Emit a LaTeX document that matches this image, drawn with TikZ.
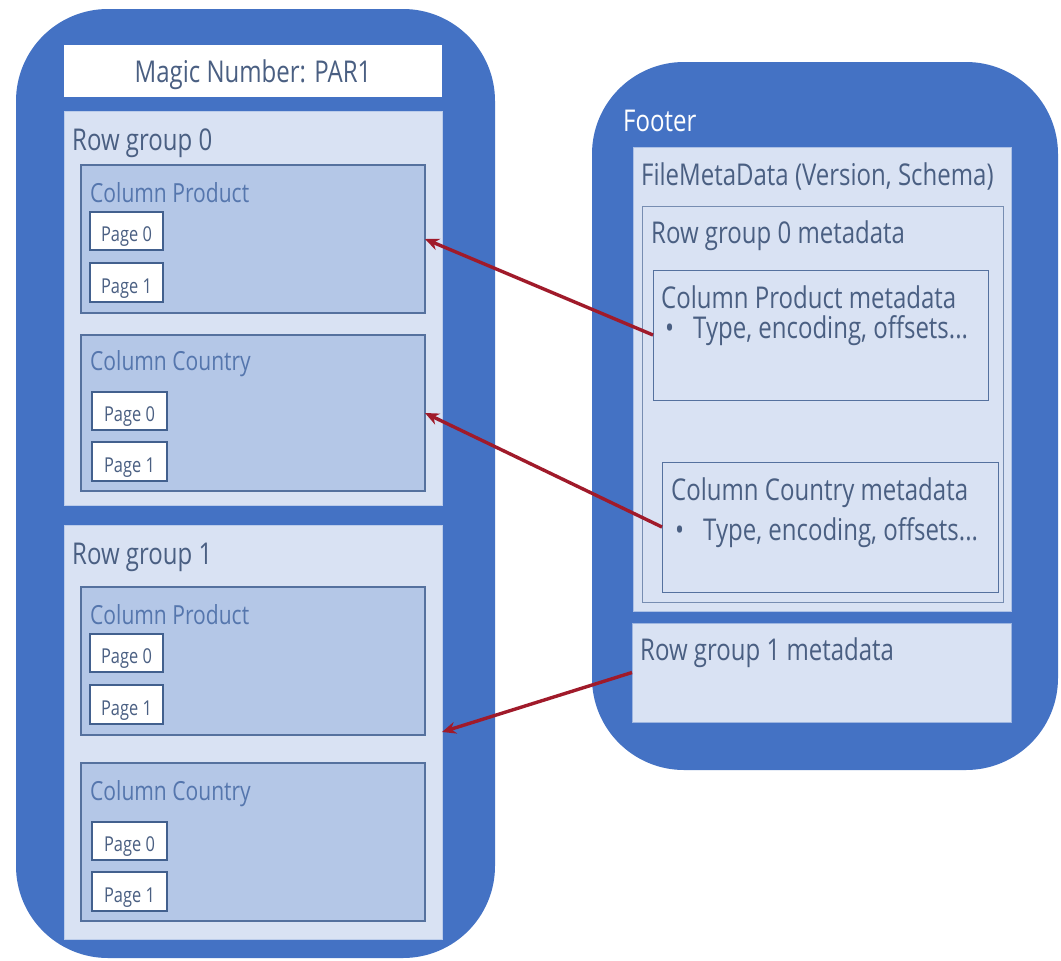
\documentclass[tikz,border=0pt]{standalone}
\usepackage{fontspec}
\setmainfont{Open Sans}[FakeStretch=0.8]
\usetikzlibrary{arrows.meta}

\definecolor{frame}{HTML}{4472C4}
\definecolor{pale}{HTML}{D9E2F3}
\definecolor{colfill}{HTML}{B4C7E7}
\definecolor{edge}{HTML}{55719E}
\definecolor{pagedge}{HTML}{42608E}
\definecolor{ink}{HTML}{4A5F82}
\definecolor{colink}{HTML}{5576AD}
\definecolor{arrowred}{HTML}{A01A2A}

\begin{document}
\begin{tikzpicture}[x=1pt,y=-1pt,
  box/.style={rectangle, inner sep=0pt, outer sep=0pt, anchor=north west},
  container/.style={box, fill=frame, draw=none, rounded corners=92pt},
  group/.style={box, fill=pale, draw=pale!80!frame, line width=0.8pt},
  column/.style={box, fill=colfill, draw=edge, line width=1.2pt},
  pagebox/.style={box, fill=white, draw=pagedge, line width=1.3pt,
    text height=21pt, text depth=0pt, text=ink,
    font=\fontsize{20.5}{23}\selectfont},
  metabox/.style={box, fill=pale, draw=edge, line width=1pt},
  title/.style={inner sep=0pt, anchor=base west, text=ink,
    font=\fontsize{30}{34}\selectfont},
  coltitle/.style={title, text=colink, font=\fontsize{26.3}{30}\selectfont},
  link/.style={-{Stealth[length=14pt,width=12pt]}, draw=arrowred, line width=3.4pt}
]
\useasboundingbox (0,0) rectangle (1061,961);
\fill[white] (0,0) rectangle (1061,961);

% ---------------- file body ----------------
\node[container, minimum width=479pt, minimum height=949pt] (file) at (16,9) {};
\node[box, fill=white, minimum width=378pt, minimum height=52pt,
      text height=22pt, text depth=0pt, text=ink,
      font=\fontsize{30}{34}\selectfont] (magic) at (64,45) {Magic Number: PAR1};

% row group 0
\node[group, minimum width=378pt, minimum height=394pt] (rg0) at (64,111) {};
\node[title] (rg0t) at (72,150) {Row group 0};
\node[column, minimum width=344pt, minimum height=148pt] (cp0) at (81,165) {};
\node[coltitle] (cp0t) at (90,202) {Column Product};
\node[pagebox, minimum width=73pt, minimum height=38pt] (cp0p0) at (90,212) {Page 0};
\node[pagebox, minimum width=73pt, minimum height=39pt] (cp0p1) at (90,263) {Page 1};
\node[column, minimum width=344pt, minimum height=156pt] (cc0) at (81,335) {};
\node[coltitle] (cc0t) at (90,370) {Column Country};
\node[pagebox, minimum width=75pt, minimum height=38pt] (cc0p0) at (92,392) {Page 0};
\node[pagebox, minimum width=75pt, minimum height=39pt] (cc0p1) at (92,442) {Page 1};

% row group 1
\node[group, minimum width=378pt, minimum height=414pt] (rg1) at (64,525) {};
\node[title] (rg1t) at (72,564) {Row group 1};
\node[column, minimum width=344pt, minimum height=148pt] (cp1) at (81,587) {};
\node[coltitle] (cp1t) at (90,624) {Column Product};
\node[pagebox, minimum width=73pt, minimum height=38pt] (cp1p0) at (90,634) {Page 0};
\node[pagebox, minimum width=73pt, minimum height=39pt] (cp1p1) at (90,685) {Page 1};
\node[column, minimum width=344pt, minimum height=158pt] (cc1) at (81,763) {};
\node[coltitle] (cc1t) at (90,800) {Column Country};
\node[pagebox, minimum width=75pt, minimum height=38pt] (cc1p0) at (92,822) {Page 0};
\node[pagebox, minimum width=75pt, minimum height=39pt] (cc1p1) at (92,872) {Page 1};

% ---------------- footer ----------------
\node[container, minimum width=466pt, minimum height=708pt] (footer) at (592,62) {};
\node[title, text=white] (footert) at (623,131) {Footer};
\node[metabox, draw=pale!70!frame, minimum width=378pt, minimum height=464pt] (fmd) at (633,147) {};
\node[title] (fmdt) at (641,185) {FileMetaData (Version, Schema)};
\node[metabox, draw=edge!80!white, minimum width=361pt, minimum height=396pt] (rg0m) at (642,206) {};
\node[title] (rg0mt) at (651,243) {Row group 0 metadata};
\node[metabox, minimum width=335pt, minimum height=130pt] (cpm) at (653,270) {};
\node[title] (cpmt) at (661,308) {Column Product metadata};
\node[title] (cpmb) at (665,338) {•\hspace{19pt}Type, encoding, offsets...};
\node[metabox, minimum width=336pt, minimum height=130pt] (ccm) at (662,462) {};
\node[title] (ccmt) at (671,500) {Column Country metadata};
\node[title] (ccmb) at (675,540) {•\hspace{19pt}Type, encoding, offsets...};
\node[metabox, draw=pale!60!frame, minimum width=379pt, minimum height=99pt] (rg1m) at (632,623) {};
\node[title] (rg1mt) at (640,660) {Row group 1 metadata};

% ---------------- references ----------------
\draw[link] (cpm.west) -- (cp0.east);
\draw[link] (ccm.west) -- (cc0.east);
\draw[link] (rg1m.west) -- (rg1.east);
\end{tikzpicture}
\end{document}
